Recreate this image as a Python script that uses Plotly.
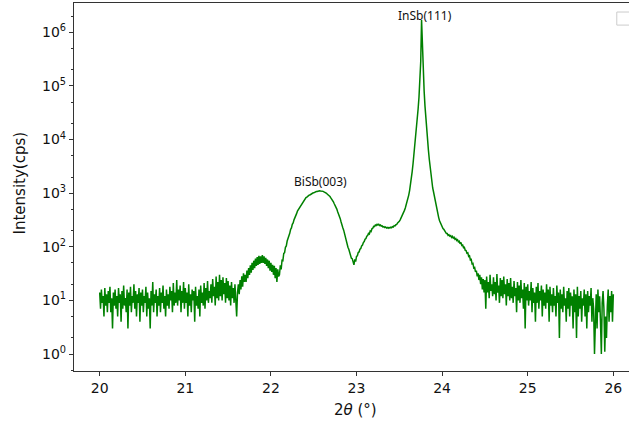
import numpy as np
import plotly.graph_objects as go

# Intensity (cps), one value per 0.01 deg of 2theta, 20.00 .. 26.00
rows_low_angle = [
    [14, 7, 16, 9, 12, 5, 17, 8, 13, 6],          # 20.0
    [15, 9, 18, 6, 11, 3, 14, 8, 16, 7],          # 20.1
    [12, 5, 17, 9, 13, 4, 15, 7, 19, 8],          # 20.2
    [11, 6, 16, 3, 14, 8, 18, 6, 12, 9],          # 20.3
    [20, 7, 15, 5, 13, 9, 17, 4, 14, 8],          # 20.4
    [16, 6, 12, 9, 18, 5, 14, 7, 11, 3],          # 20.5
    [15, 8, 22, 6, 13, 9, 16, 5, 12, 8],          # 20.6
    [17, 6, 14, 9, 19, 7, 12, 5, 16, 8],          # 20.7
    [13, 7, 18, 10, 15, 6, 21, 8, 14, 9],         # 20.8
    [24, 8, 16, 10, 19, 6, 15, 9, 22, 7],         # 20.9
    [17, 9, 14, 5, 20, 8, 13, 6, 16, 10],         # 21.0
    [15, 4, 18, 8, 12, 7, 16, 5, 19, 9],          # 21.1
    [14, 8, 21, 7, 17, 10, 23, 9, 15, 11],        # 21.2
    [20, 9, 25, 12, 18, 8, 28, 11, 22, 10],       # 21.3
    [30, 12, 24, 10, 27, 13, 21, 9, 26, 11],      # 21.4
    [23, 10, 19, 8, 22, 11, 17, 9, 20, 12],       # 21.5
    [5, 14, 20, 13, 24, 16, 28, 18, 32, 22],      # 21.6
    [30, 22, 36, 26, 40, 30, 45, 33, 50, 37],     # 21.7
    [55, 40, 60, 44, 64, 46, 68, 48, 66, 50],     # 21.8
    [70, 50, 66, 48, 62, 44, 58, 40, 55, 36],     # 21.9
    [50, 34, 46, 30, 44, 26, 40, 22, 38, 28],     # 22.0
]
rows_peaks = [
    [30, 45, 38, 56, 55, 75, 78, 98, 104, 128],                      # 22.1
    [140, 165, 178, 210, 225, 262, 278, 318, 340, 385],              # 22.2
    [415, 462, 490, 535, 565, 610, 645, 690, 720, 762],              # 22.3
    [785, 825, 845, 878, 895, 925, 935, 965, 975, 1005],             # 22.4
    [1015, 1045, 1050, 1075, 1075, 1095, 1095, 1110, 1100, 1105],    # 22.5
    [1085, 1080, 1055, 1045, 1010, 995, 955, 935, 890, 865],         # 22.6
    [815, 780, 725, 690, 635, 595, 540, 505, 450, 415],              # 22.7
    [365, 335, 290, 266, 226, 204, 172, 155, 130, 117],              # 22.8
    [98, 90, 76, 72, 61, 60, 52, 46, 58, 53],                        # 22.9
    [66, 68, 78, 80, 90, 93, 104, 108, 120, 125],                    # 23.0
    [138, 143, 157, 162, 177, 173, 197, 192, 217, 222],              # 23.1
    [240, 238, 255, 250, 262, 255, 262, 250, 255, 242],              # 23.2
    [245, 234, 238, 228, 234, 224, 230, 222, 230, 224],              # 23.3
    [232, 226, 238, 234, 248, 245, 258, 262, 278, 285],              # 23.4
    [300, 318, 342, 362, 398, 428, 478, 528, 600, 680],              # 23.5
    [780, 920, 1120, 1400, 1850, 2500, 3500, 5000, 7500, 11000],     # 23.6
    [16000, 24000, 38000, 62000, 120000, 280000, 1700000, 450000, 170000, 80000],  # 23.7
    [42000, 24000, 15000, 9500, 6300, 4300, 3000, 2150, 1600, 1250], # 23.8
    [1050, 850, 700, 570, 480, 410, 350, 305, 275, 250],             # 23.9
    [235, 218, 212, 196, 192, 176, 176, 163, 167, 158],              # 24.0
    [162, 150, 156, 145, 150, 138, 143, 131, 135, 124],              # 24.1
    [127, 114, 120, 106, 108, 96, 98, 86, 85, 76],                   # 24.2
    [77, 66, 68, 57, 58, 48, 49, 40, 41, 34],                        # 24.3
]
rows_high_angle = [
    [36, 28, 32, 24, 30, 20, 27, 16, 25, 14],     # 24.4
    [24, 7, 28, 14, 22, 11, 30, 15, 20, 12],      # 24.5
    [27, 13, 22, 10, 31, 14, 19, 9, 26, 12],      # 24.6
    [24, 11, 28, 13, 20, 8, 25, 12, 21, 10],      # 24.7
    [26, 11, 18, 9, 23, 12, 17, 6, 22, 10],       # 24.8
    [19, 9, 24, 11, 16, 7, 21, 3, 18, 10],        # 24.9
    [20, 8, 15, 10, 22, 6, 17, 9, 14, 4],         # 25.0
    [18, 9, 21, 7, 15, 10, 19, 5, 16, 8],         # 25.1
    [14, 7, 20, 9, 16, 4, 18, 8, 13, 6],          # 25.2
    [17, 8, 12, 5, 19, 9, 14, 2, 16, 7],          # 25.3
    [13, 6, 18, 8, 11, 4, 15, 7, 17, 5],          # 25.4
    [14, 8, 12, 3, 16, 6, 13, 2, 18, 5],          # 25.5
    [12, 7, 15, 4, 11, 8, 16, 5, 13, 3],          # 25.6
    [15, 6, 12, 8, 17, 4, 11, 7, 1.0, 5],         # 25.7
    [13, 3, 16, 6, 12, 4, 1.0, 9, 15, 7],         # 25.8
    [1.1, 5, 2, 8, 16, 4, 12, 6, 15, 4],          # 25.9
    [13],                                          # 26.0
]

intensity = [v for row in rows_low_angle + rows_peaks + rows_high_angle for v in row]
two_theta = np.round(20.0 + 0.01 * np.arange(len(intensity)), 2)

x_ticks = [20, 21, 22, 23, 24, 25, 26]
y_ticks = [1, 10, 100, 1000, 10000, 100000, 1000000]
y_tick_text = ["10<sup>%d</sup>" % i for i in range(7)]

peak_labels = ["BiSb(003)", "InSb(111)"]
peak_label_x = [22.58, 23.805]
peak_label_logy = [3.218, 6.323]

fig = go.Figure()
fig.add_trace(go.Scatter(
    x=two_theta, y=intensity, mode="lines",
    line=dict(color="#008000", width=1.5),
    showlegend=False, hoverinfo="skip",
))

axis_font = dict(family="DejaVu Sans", size=14, color="#111111")

fig.update_layout(
    width=629, height=425,
    margin=dict(l=74, r=0, t=3, b=54),
    paper_bgcolor="white", plot_bgcolor="white",
    showlegend=False,
    xaxis=dict(
        range=[19.7, 26.183], tickvals=x_ticks, ticktext=[str(t) for t in x_ticks],
        ticks="outside", ticklen=4, tickwidth=1, tickcolor="#333333",
        showline=True, linecolor="#333333", linewidth=1.3, mirror=True,
        showgrid=False, zeroline=False, tickfont=axis_font,
    ),
    yaxis=dict(
        type="log", range=[-0.317, 6.547], tickvals=y_ticks, ticktext=y_tick_text,
        ticks="outside", ticklen=4, tickwidth=1, tickcolor="#333333",
        minor=dict(ticks="outside", ticklen=2, tickcolor="#333333", showgrid=False),
        showline=True, linecolor="#333333", linewidth=1.3,
        showgrid=False, zeroline=False, tickfont=axis_font,
    ),
)

for text, xv, ly in zip(peak_labels, peak_label_x, peak_label_logy):
    fig.add_annotation(x=xv, y=ly, xref="x", yref="y", text=text, showarrow=False,
                       font=dict(family="Noto Sans", size=12, color="#111111"),
                       xanchor="center", yanchor="middle")

fig.add_annotation(x=0.508, y=-0.106, xref="paper", yref="paper", text="2<i>θ</i> (°)",
                   showarrow=False, font=dict(family="DejaVu Sans", size=15, color="#111111"),
                   xanchor="center", yanchor="middle")
fig.add_annotation(x=-0.097, y=0.51, xref="paper", yref="paper", text="Intensity(cps)",
                   textangle=-90, showarrow=False,
                   font=dict(family="DejaVu Sans", size=15, color="#111111"),
                   xanchor="center", yanchor="middle")

# empty legend frame in the top-right corner
fig.add_shape(type="rect", xref="paper", yref="paper", x0=0.978, x1=1.03, y0=0.940, y1=0.9755,
              line=dict(color="#cccccc", width=1), fillcolor="white", layer="above")

fig.write_html("out.html")
